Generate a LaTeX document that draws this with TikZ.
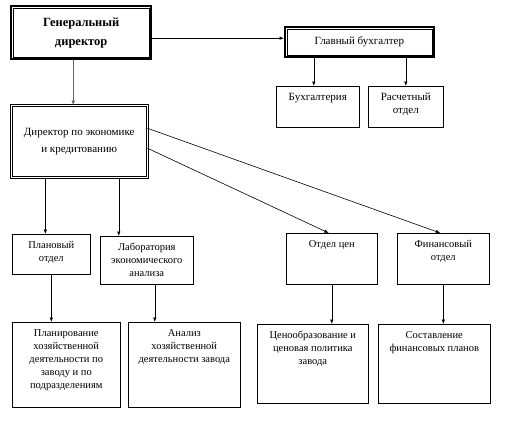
\documentclass[tikz,border=0pt]{standalone}
\usepackage{fontspec}
\setmainfont{Liberation Serif}
\usetikzlibrary{arrows.meta}
\newcommand\topbox[3]{\parbox[c][#2pt][t]{#1pt}{\vspace*{7pt}\centering #3\par}}
\newcommand\midbox[3]{\parbox[c][#2pt][c]{#1pt}{\centering #3\par}}
\begin{document}
\begin{tikzpicture}[x=1pt,y=-1pt,
  box/.style={draw, line width=0.6pt, inner sep=0pt, anchor=north west, font=\fontsize{10.5}{13}\selectfont},
  heavybox/.style={draw, line width=2.4pt, inner sep=0pt, anchor=north west},
  dblbox/.style={draw, double, double distance=1.5pt, line width=0.5pt, inner sep=0pt, anchor=north west, font=\fontsize{11}{17}\selectfont},
  arr/.style={line width=0.6pt, -{Latex[length=4.5pt,width=3.5pt]}},
  ln/.style={line width=0.6pt}
]
\useasboundingbox (0,0) rectangle (520,424);
% top level
\node[heavybox, font=\bfseries\fontsize{12.5}{19}\selectfont] (gd) at (10,5) {\midbox{140}{53}{Генеральный\\директор}};
\draw[line width=0.6pt] ([shift={(3.5pt,-3.5pt)}]gd.north west) rectangle ([shift={(-3.5pt,3.5pt)}]gd.south east);
\node[heavybox, line width=1.8pt, font=\fontsize{11}{13}\selectfont] (gb) at (284,26) {\midbox{149}{30}{Главный бухгалтер}};
\draw[line width=0.6pt] ([shift={(3pt,-3pt)}]gb.north west) rectangle ([shift={(-3pt,3pt)}]gb.south east);
\node[box, font=\fontsize{11}{13}\selectfont] (buh) at (276,86) {\topbox{83}{41}{Бухгалтерия}};
\node[box, font=\fontsize{11}{13}\selectfont] (ras) at (368,86) {\topbox{75}{41}{Расчетный\\отдел}};
\node[dblbox] (dir) at (11,105) {\midbox{136}{72}{Директор по экономике\\и кредитованию}};
% middle level
\node[box] (plan) at (12,234) {\topbox{78}{40}{Плановый\\отдел}};
\node[box] (lab) at (100,236) {\topbox{93}{48}{Лаборатория\\экономического\\анализа}};
\node[box] (cen) at (286,233) {\topbox{91}{51}{Отдел цен}};
\node[box] (fin) at (397,233) {\topbox{92}{51}{Финансовый\\отдел}};
% bottom level
\node[box] (pl2) at (12,322) {\topbox{108}{85}{Планирование\\хозяйственной\\деятельности по\\заводу и по\\подразделениям}};
\node[box] (an) at (128,322) {\topbox{112}{85}{Анализ\\хозяйственной\\деятельности завода}};
\node[box] (co) at (257,324) {\topbox{111}{79}{Ценообразование и\\ценовая политика\\завода}};
\node[box] (sf) at (378,324) {\topbox{112}{79}{Составление\\финансовых планов}};
% connectors
\draw[arr] ([yshift=-5.5pt]gd.east) -- ([yshift=-5.5pt]gd.east -| gb.west);
\draw[arr, line width=0.4pt, draw=black!60] ([xshift=-8pt]gd.south) -- ([xshift=-8pt]gd.south |- dir.north);
\draw[arr] ([xshift=-4pt]buh.north |- gb.south) -- ([xshift=-4pt]buh.north);
\draw[arr] (ras.north |- gb.south) -- (ras.north);
\draw[arr] ([xshift=-6pt]plan.north |- dir.south) -- ([xshift=-6pt]plan.north);
\draw[arr] ([xshift=-28pt]lab.north |- dir.south) -- ([xshift=-28pt]lab.north);
\draw[arr] ([yshift=13pt]dir.east) -- ([xshift=-3pt]fin.north);
\draw[arr] ([yshift=-7pt]dir.east) -- ([xshift=-3pt]cen.north);
\draw[arr] (plan.south) -- (plan.south |- pl2.north);
\draw[arr] ([xshift=8pt]lab.south) -- ([xshift=8pt]lab.south |- an.north);
\draw[arr] (cen.south) -- (cen.south |- co.north);
\draw[arr] (fin.south) -- (fin.south |- sf.north);
\end{tikzpicture}
\end{document}
